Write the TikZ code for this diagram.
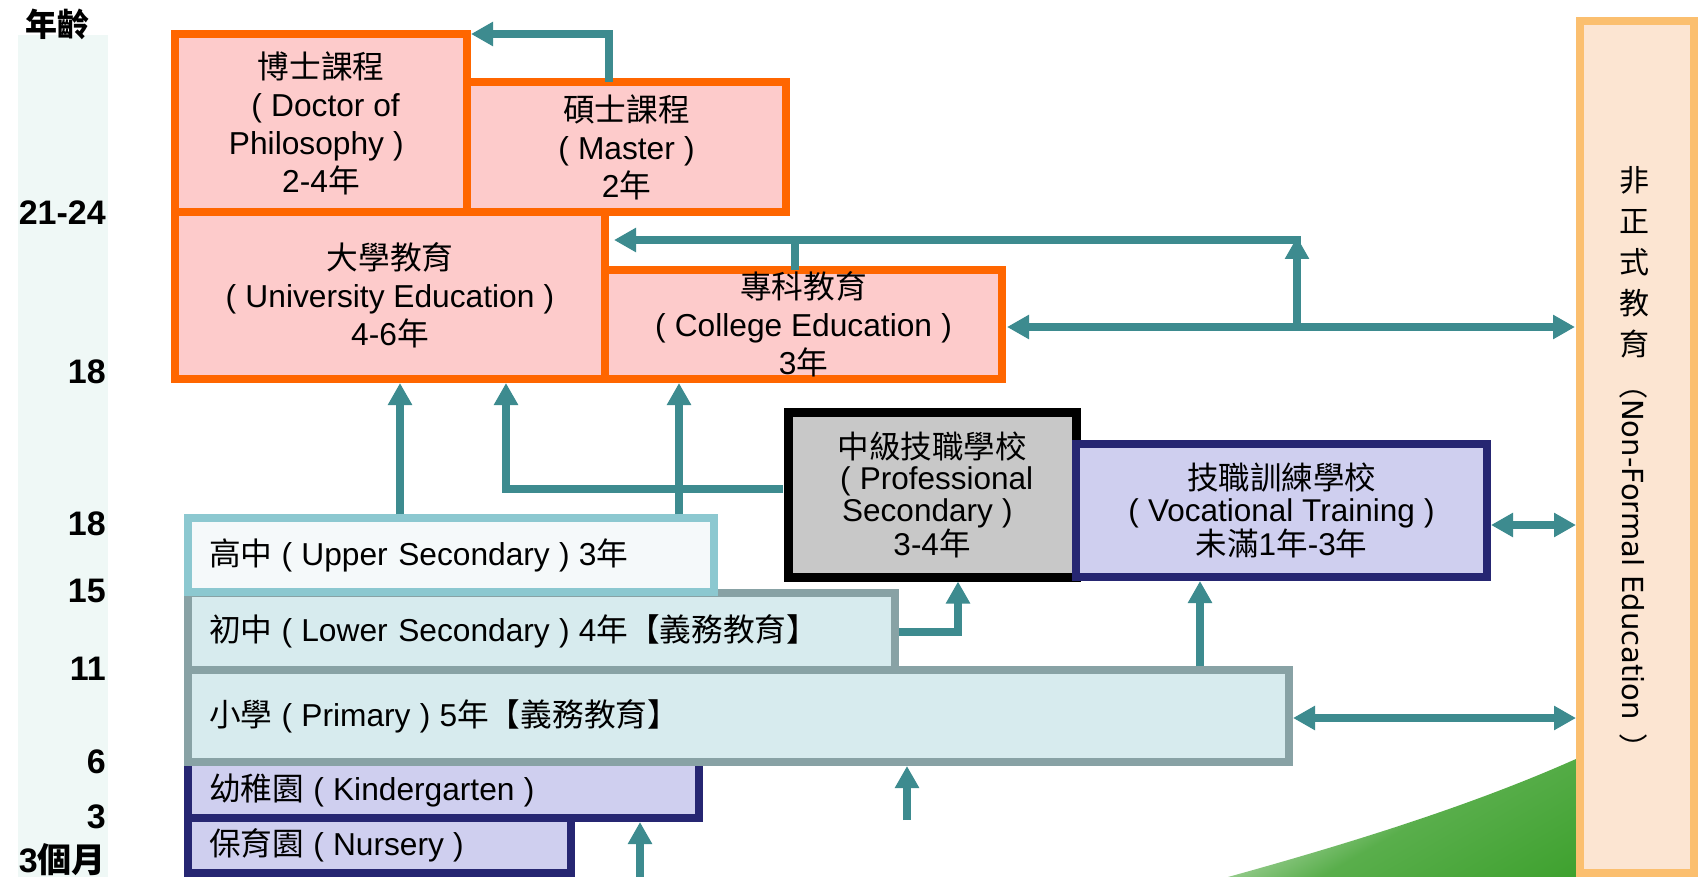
\documentclass[tikz,border=0pt]{standalone}
\usepackage{fontspec}
\setmainfont{Liberation Sans}
\newfontfamily\cjk{Noto Sans CJK TC}
\newfontfamily\dvs{DejaVu Sans}
\usetikzlibrary{arrows.meta,calc}
\definecolor{cOrange}{HTML}{FF6600}
\definecolor{cPink}{HTML}{FDCBCB}
\definecolor{cTeal}{HTML}{3D8B8F}
\definecolor{cUpB}{HTML}{8CC8D0}
\definecolor{cUpF}{HTML}{F5F9FA}
\definecolor{cLoB}{HTML}{88A2A5}
\definecolor{cLoF}{HTML}{D7EBEE}
\definecolor{cNavy}{HTML}{262672}
\definecolor{cLav}{HTML}{CFCFEF}
\definecolor{cGray}{HTML}{C8C8C8}
\definecolor{cNfB}{HTML}{FBBF6F}
\definecolor{cNfF}{HTML}{FCE5D2}
\definecolor{cAge}{HTML}{EFF8F6}
\definecolor{cGreen}{HTML}{3CA02C}
\newcommand{\zh}[1]{{\cjk #1}}
\newcommand{\lp}{\makebox[29pt]{(}}
\newcommand{\rp}{\makebox[29pt]{)}}
\tikzset{
  box/.style={rectangle, draw, line width=8pt, inner sep=0pt, outer sep=0pt, align=center,
    font=\fontsize{31.7}{38}\selectfont},
  obox/.style={box, draw=cOrange, fill=cPink},
  tightbox/.style={box, font=\fontsize{31.5}{31.5}\selectfont},
  lbox/.style={box, align=left, font=\fontsize{31.7}{38}\selectfont},
  tline/.style={draw=cTeal, line width=8pt},
  arr/.style={tline, -{Triangle[width=23pt,length=22pt]}},
  darr/.style={tline, {Triangle[width=23pt,length=22pt]}-{Triangle[width=23pt,length=22pt]}},
  age/.style={anchor=east, inner sep=0pt, font=\fontsize{34}{34}\selectfont\bfseries}
}
\begin{document}
\begin{tikzpicture}[x=1pt,y=-1pt]
\useasboundingbox (0,0) rectangle (1698,877);
\fill[white] (0,0) rectangle (1698,877);
% decorative green swoosh
\shade[top color=white, bottom color=cGreen, middle color=cGreen!85, shading angle=30]
  (1228,877) .. controls (1380,835) and (1500,795) .. (1600,748)
  .. controls (1650,728) .. (1698,712) -- (1698,877) -- cycle;
% age column
\fill[cAge] (18,35) rectangle (108,877);
\node[inner sep=0pt, font=\fontsize{32}{32}\selectfont\cjk\bfseries] (agehead) at (57,24) {年齡};
\node[age] (a1) at (106,213) {21-24};
\node[age] (a2) at (106,372) {18};
\node[age] (a3) at (106,524) {18};
\node[age] (a4) at (106,591) {15};
\node[age] (a5) at (106,669) {11};
\node[age] (a6) at (106,762) {6};
\node[age] (a7) at (106,817) {3};
\node[age] (a8) at (106,860) {3\zh{個月}};

% higher education
\node[obox, minimum width=292pt, minimum height=178pt] (doctor) at (321,123)
  {\zh{博士課程}\\\lp Doctor of\\Philosophy\rp\\2-4\zh{年}};
\node[obox, minimum width=319pt, minimum height=130pt] (master) at (626.5,147)
  {\zh{碩士課程}\\\lp Master\rp\\2\zh{年}};
\node[obox, minimum width=430pt, minimum height=167pt] (univ) at (390,295.5)
  {\zh{大學教育}\\\lp University Education\rp\\4-6\zh{年}};
\node[obox, minimum width=397pt, minimum height=109pt] (college) at (803.5,324.5)
  {\zh{專科教育}\\\lp College Education\rp\\3\zh{年}};

% non-formal education
\node[box, draw=cNfB, fill=cNfF, minimum width=114pt, minimum height=852pt] (nonformal) at (1637,447) {};
\node[inner sep=0pt, align=center, font=\fontsize{30}{41}\selectfont\cjk] (nftext) at (1634,262)
  {非\\正\\式\\教\\育};
\node[inner sep=0pt, rotate=-90, anchor=west, font=\fontsize{29}{29}\selectfont] (nflatin) at (1634,370)
  {\zh{（}{\dvs Non-Formal Education}\hspace{14pt}\zh{）}};

% vocational
\node[tightbox, draw=black, line width=9pt, fill=cGray, minimum width=288pt, minimum height=165pt] (prof) at (932,494.5)
  {\zh{中級技職學校}\\\lp Professional\\Secondary\rp\\3-4\zh{年}};
\node[tightbox, draw=cNavy, fill=cLav, minimum width=411pt, minimum height=133pt] (voc) at (1281.5,510.5)
  {\zh{技職訓練學校}\\\lp Vocational Training\rp\\\zh{未滿}1\zh{年}-3\zh{年}};

% basic education
\node[lbox, draw=cNavy, fill=cLav, minimum width=511pt, minimum height=56pt, text width=469pt] (kinder) at (443.5,790)
  {\zh{幼稚園}\lp Kindergarten\rp};
\node[lbox, draw=cNavy, fill=cLav, minimum width=383pt, minimum height=55pt, text width=341pt] (nursery) at (379.5,845.5)
  {\zh{保育園}\lp Nursery\rp};
\node[lbox, draw=cLoB, fill=cLoF, minimum width=707pt, minimum height=77pt, text width=665pt] (lower) at (541.5,631.5)
  {\zh{初中}\lp Lower Secondary\rp 4\zh{年【義務教育】}};
\node[lbox, draw=cLoB, fill=cLoF, minimum width=1101pt, minimum height=92pt, text width=1059pt] (primary) at (738.5,716)
  {\zh{小學}\lp Primary\rp 5\zh{年【義務教育】}};
\node[lbox, draw=cUpB, fill=cUpF, minimum width=526pt, minimum height=74pt, text width=484pt] (upper) at (451,555)
  {\zh{高中}\lp Upper Secondary\rp 3\zh{年}};

% connectors
\draw[arr] ($(master.north west)+(142,0)$) |- ($(doctor.north east)+(4,0)$);
\coordinate (jn) at (1297,240);
\draw[tline] ($(college.north west)+(190,0)$) -- ($(college.north west)+(190,-30)$);
\draw[arr] ($(jn)+(4,0)$) -- ($(jn -| univ.east)+(9,0)$);
\draw[darr] ($(college.east)+(5,2.5)$) -- ($(nonformal.west |- college.east)+(-5,2.5)$);
\draw[arr] ($(college.east -| jn)+(0,2.5)$) -- ($(jn)+(0,-3)$);

\draw[arr] ($(upper.north west)+(212,-4)$) -- ($(univ.south west)+(225,4)$);
\draw[arr] ($(prof.west)+(-5,-5.5)$) -| ($(univ.south west)+(331,4)$);
\draw[arr] ($(upper.north west)+(491,-4)$) -- ($(college.south west)+(74,4)$);
\draw[arr] ($(lower.east)+(4,0)$) -| ($(prof.south west)+(170,4.5)$);
\draw[arr] ($(primary.north west)+(1012,-4)$) -- ($(voc.south west)+(124,4)$);
\draw[darr] ($(voc.east)+(4,14.5)$) -- ($(nonformal.west |- voc.east)+(-4,14.5)$);
\draw[darr] ($(primary.east)+(4,2)$) -- ($(nonformal.west |- primary.east)+(-4,2)$);
\coordinate (s1) at (907,820);
\draw[arr] (s1) -- ($(primary.south west)+(719,4)$);
\coordinate (s2) at (640,877);
\draw[arr] (s2) -- ($(kinder.south west)+(452,4)$);
\end{tikzpicture}
\end{document}
